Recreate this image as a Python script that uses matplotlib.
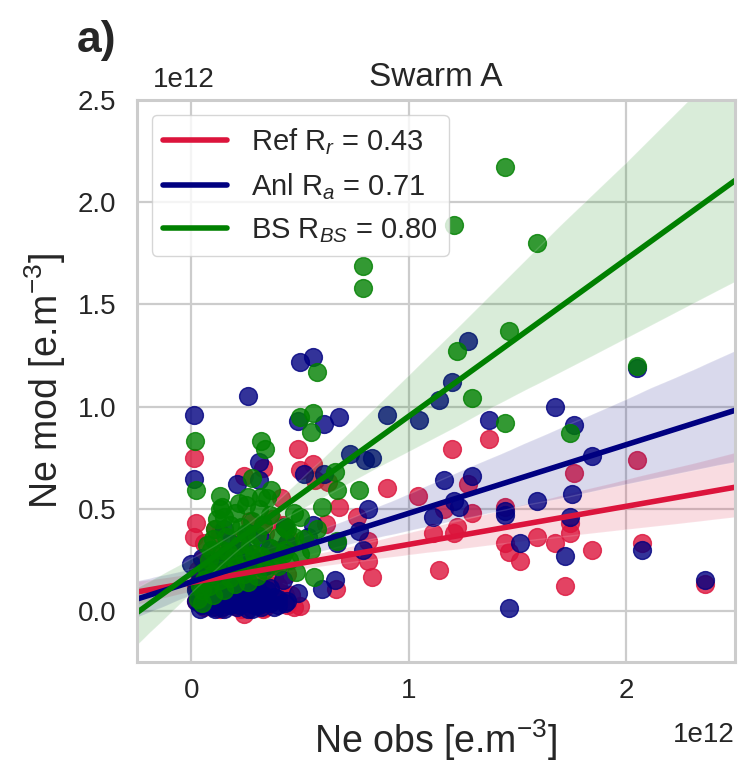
import numpy as np
import matplotlib
matplotlib.use('Agg')
import matplotlib.pyplot as plt
import seaborn as sns

# Ne obs / Ne mod in units of 1e12 e.m^-3
ref_x = [0.02, 0.04, 0.05, 0.06, 0.03, 0.08, 0.10, 0.12, 0.14, 0.16, 0.18, 0.20, 0.22, 0.24,
         0.26, 0.28, 0.30, 0.32, 0.34, 0.36, 0.38, 0.40, 0.42, 0.44, 0.46, 0.06, 0.11, 0.19,
         0.27, 0.33, 0.41, 0.01, 0.09, 0.15, 0.21, 0.29, 0.35, 0.13, 0.37, 0.45,
         0.03, 0.05, 0.07, 0.09, 0.11, 0.13, 0.15, 0.17, 0.19, 0.21, 0.23, 0.25, 0.27, 0.29,
         0.31, 0.33, 0.35, 0.37, 0.39, 0.04, 0.08, 0.12, 0.16, 0.20, 0.24, 0.28, 0.32, 0.36,
         0.40, 0.06, 0.10, 0.14, 0.18, 0.22, 0.26, 0.30, 0.34, 0.38, 0.02, 0.44,
         0.05, 0.09, 0.13, 0.17, 0.21, 0.25, 0.29, 0.33, 0.37, 0.41, 0.07, 0.11, 0.15, 0.19,
         0.23, 0.27, 0.31, 0.35, 0.43, 0.47,
         0.012, 0.49, 0.56, 0.50, 0.57, 0.63, 0.90, 0.68, 1.04, 0.02, 0.62, 0.76, 0.81, 0.73,
         0.81, 0.83, 0.665, 0.50, 0.24, 0.24, 0.33, 0.41,
         1.37, 1.20, 2.05, 1.76, 1.27, 1.44, 1.16, 1.29, 1.74, 1.74, 1.11, 1.21, 1.22, 1.44,
         1.59, 1.67, 1.46, 1.51, 1.84, 2.07, 1.14, 1.72, 2.36]
ref_y = [0.05, 0.15, 0.25, 0.33, 0.20, 0.10, 0.22, 0.30, 0.06, 0.18, 0.26, 0.12, 0.35, 0.08,
         0.20, 0.28, 0.05, 0.15, 0.38, 0.10, 0.22, 0.30, 0.42, 0.18, 0.08, 0.02, 0.40, 0.03,
         0.44, 0.03, 0.06, 0.36, 0.05, 0.12, 0.20, 0.13, 0.27, 0.38, 0.45, 0.35,
         0.10, 0.06, 0.12, 0.03, 0.09, 0.15, 0.04, 0.11, 0.07, 0.02, 0.13, 0.05, 0.10, 0.08,
         0.14, 0.06, 0.03, 0.12, 0.09, 0.17, 0.14, 0.02, 0.08, 0.16, 0.11, 0.04, 0.18, 0.07,
         0.12, 0.05, 0.13, 0.19, 0.10, 0.06, 0.15, 0.09, 0.02, 0.16, 0.12, 0.03,
         0.04, 0.08, 0.01, 0.06, 0.10, 0.03, 0.07, 0.01, 0.05, 0.09, 0.11, 0.03, 0.07, 0.12,
         0.01, 0.06, 0.10, 0.04, 0.08, 0.02,
         0.75, 0.79, 0.72, 0.69, 0.64, 0.63, 0.60, 0.51, 0.56, 0.43, 0.425, 0.46, 0.34, 0.25,
         0.245, 0.165, 0.105, 0.025, -0.015, 0.66, 0.70, 0.55,
         0.84, 0.79, 0.74, 0.675, 0.62, 0.51, 0.50, 0.48, 0.43, 0.38, 0.38, 0.38, 0.41, 0.33,
         0.36, 0.33, 0.29, 0.245, 0.30, 0.33, 0.20, 0.12, 0.13]

anl_x = [0.03, 0.05, 0.06, 0.08, 0.09, 0.10, 0.11, 0.12, 0.13, 0.14, 0.15, 0.16, 0.17, 0.18,
         0.19, 0.20, 0.21, 0.22, 0.23, 0.24, 0.25, 0.26, 0.27, 0.28, 0.29, 0.30, 0.31, 0.32,
         0.33, 0.34, 0.35, 0.36, 0.38, 0.40, 0.04, 0.07, 0.12, 0.16, 0.20, 0.24, 0.28, 0.32,
         0.36, 0.10, 0.18, 0.26, 0.34, 0.42, 0.05, 0.15, 0.0, 0.02,
         0.02, 0.04, 0.06, 0.08, 0.10, 0.12, 0.14, 0.16, 0.18, 0.20, 0.22, 0.24, 0.26, 0.28,
         0.30, 0.32, 0.34, 0.36, 0.38, 0.40, 0.03, 0.07, 0.11, 0.15, 0.19, 0.23, 0.27, 0.31,
         0.35, 0.44,
         0.50, 0.56, 0.26, 0.012, 0.49, 0.61, 0.68, 0.90, 1.045, 1.14, 1.20, 1.27, 1.37, 1.67,
         1.76, 2.05, 0.31, 0.73, 0.80, 0.83, 0.52, 0.61, 0.012, 0.21, 0.31, 0.81, 1.11, 0.56,
         0.77, 0.67, 0.79, 0.66, 0.60, 0.49, 0.43, 0.535, 0.44, 0.43,
         1.84, 1.16, 1.29, 1.75, 1.21, 1.23, 1.59, 1.44, 1.44, 1.74, 1.51, 1.72, 2.07, 2.36, 1.46]
anl_y = [0.08, 0.03, 0.12, 0.05, 0.10, 0.02, 0.07, 0.14, 0.04, 0.09, 0.01, 0.06, 0.11, 0.03,
         0.08, 0.13, 0.02, 0.05, 0.10, 0.04, 0.12, 0.01, 0.07, 0.09, 0.03, 0.11, 0.06, 0.02,
         0.08, 0.05, 0.10, 0.04, 0.07, 0.03, 0.18, 0.20, 0.22, 0.25, 0.28, 0.30, 0.26, 0.35,
         0.31, 0.16, 0.33, 0.38, 0.22, 0.15, 0.26, 0.40, 0.23, 0.10,
         0.05, 0.01, 0.09, 0.03, 0.11, 0.06, 0.02, 0.10, 0.05, 0.08, 0.03, 0.12, 0.06, 0.01,
         0.09, 0.04, 0.07, 0.11, 0.02, 0.06, 0.13, 0.04, 0.01, 0.11, 0.13, 0.09, 0.11, 0.03,
         0.06, 0.05,
         1.22, 1.24, 1.05, 0.96, 0.93, 0.915, 0.95, 0.96, 0.935, 1.03, 1.12, 1.32, 0.935, 1.00,
         0.91, 1.19, 0.73, 0.77, 0.74, 0.75, 0.67, 0.67, 0.645, 0.62, 0.64, 0.50, 0.46, 0.42,
         0.39, 0.33, 0.30, 0.15, 0.105, 0.09, 0.04, 0.36, 0.33, 0.41,
         0.76, 0.64, 0.66, 0.57, 0.54, 0.51, 0.54, 0.49, 0.47, 0.46, 0.33, 0.27, 0.30, 0.15, 0.016]

bs_x = [0.03, 0.05, 0.06, 0.07, 0.08, 0.09, 0.10, 0.11, 0.12, 0.13, 0.05, 0.08, 0.10, 0.12,
        0.14, 0.16, 0.18, 0.20, 0.22, 0.10, 0.13, 0.16, 0.19, 0.22, 0.25, 0.28, 0.31, 0.15,
        0.18, 0.21, 0.24, 0.27, 0.30, 0.33, 0.36, 0.20, 0.24, 0.28, 0.32, 0.36, 0.40, 0.44,
        0.26, 0.30, 0.34, 0.38, 0.42, 0.07, 0.15, 0.25, 0.35, 0.04, 0.17, 0.23, 0.29,
        0.13, 0.14, 0.26, 0.32, 0.43, 0.47,
        0.40, 0.45, 0.50, 0.43, 0.52, 0.47, 0.55, 0.58,
        1.44, 1.21, 1.59, 0.79, 0.79, 1.46, 1.22, 2.05, 0.576, 1.29, 0.50, 0.56, 0.55, 1.44,
        1.74, 0.015, 0.32, 0.34, 0.28, 0.66, 0.02, 0.365, 0.67, 0.77, 0.60, 0.50, 0.67, 0.48,
        0.565]
bs_y = [0.06, 0.10, 0.15, 0.20, 0.25, 0.30, 0.35, 0.40, 0.45, 0.50, 0.04, 0.12, 0.18, 0.24,
        0.30, 0.36, 0.42, 0.48, 0.53, 0.08, 0.15, 0.20, 0.26, 0.32, 0.38, 0.44, 0.50, 0.10,
        0.16, 0.22, 0.27, 0.32, 0.37, 0.42, 0.47, 0.13, 0.18, 0.22, 0.27, 0.31, 0.36, 0.40,
        0.14, 0.17, 0.20, 0.24, 0.28, 0.32, 0.46, 0.52, 0.55, 0.12, 0.29, 0.41, 0.28,
        0.56, 0.51, 0.555, 0.555, 0.41, 0.48,
        0.22, 0.25, 0.28, 0.30, 0.35, 0.36, 0.30, 0.40,
        2.17, 1.89, 1.80, 1.69, 1.58, 1.37, 1.27, 1.20, 1.17, 1.04, 0.95, 0.97, 0.875, 0.92,
        0.87, 0.83, 0.83, 0.79, 0.65, 0.68, 0.59, 0.59, 0.59, 0.59, 0.51, 0.46, 0.34, 0.19,
        0.165]

labels = ['Ref R$_r$ = 0.43', 'Anl R$_a$ = 0.71', 'BS R$_{BS}$ = 0.80']
colors = ['crimson', 'navy', 'green']

sns.set_theme(style='whitegrid')
plt.rcParams['font.family'] = ['Liberation Sans', 'DejaVu Sans']
plt.rcParams['mathtext.fontset'] = 'custom'
plt.rcParams['mathtext.rm'] = 'Liberation Sans'
plt.rcParams['mathtext.it'] = 'Liberation Sans:italic'
plt.rcParams['axes.edgecolor'] = '#cccccc'
plt.rcParams['axes.linewidth'] = 2.2
plt.rcParams['grid.linewidth'] = 1.6
plt.rcParams['grid.color'] = '#cccccc'

fig = plt.figure(figsize=(7.38, 7.72), dpi=100)
ax = fig.add_axes([0.1856, 0.1425, 0.8104, 0.728])
# truncate=False extends the fits to the current xlim, so set it first
ax.set_xlim(-0.25e12, 2.5e12)
ax.set_ylim(-0.25e12, 2.5e12)

series = [(ref_x, ref_y), (anl_x, anl_y), (bs_x, bs_y)]
for (xs, ys), lab, col in zip(series, labels, colors):
    xs = np.array(xs) * 1e12
    ys = np.array(ys) * 1e12
    sns.regplot(x=xs, y=ys, ax=ax, color=col, truncate=False, seed=1,
                scatter_kws={'s': 165, 'alpha': 0.8},
                line_kws={'lw': 4, 'label': lab})

ax.set_xlim(-0.25e12, 2.5e12)
ax.set_ylim(-0.25e12, 2.5e12)
ax.set_xticks([0, 1e12, 2e12])
ax.set_yticks([0, 0.5e12, 1e12, 1.5e12, 2e12, 2.5e12])
ax.tick_params(axis='x', labelsize=20, pad=5.5)
ax.tick_params(axis='y', labelsize=20, pad=9)
ax.xaxis.get_offset_text().set_fontsize(20)
ax.yaxis.get_offset_text().set_fontsize(20)
ax.yaxis.get_offset_text().set_x(0.027)
ax.xaxis.OFFSETTEXTPAD = 13
ax.yaxis.OFFSETTEXTPAD = 9
ax.set_xlabel('Ne obs [e.m$^{-3}$]', fontsize=27, labelpad=10)
ax.set_ylabel('Ne mod [e.m$^{-3}$]', fontsize=27, labelpad=7)
ax.set_title('Swarm A', fontsize=24, pad=10)
ax.legend(loc='upper left', fontsize=21, handlelength=2.2, labelspacing=0.48)
fig.text(0.104, 0.932, 'a)', fontsize=32, fontweight='bold')

fig.savefig('out.png', dpi=100)
